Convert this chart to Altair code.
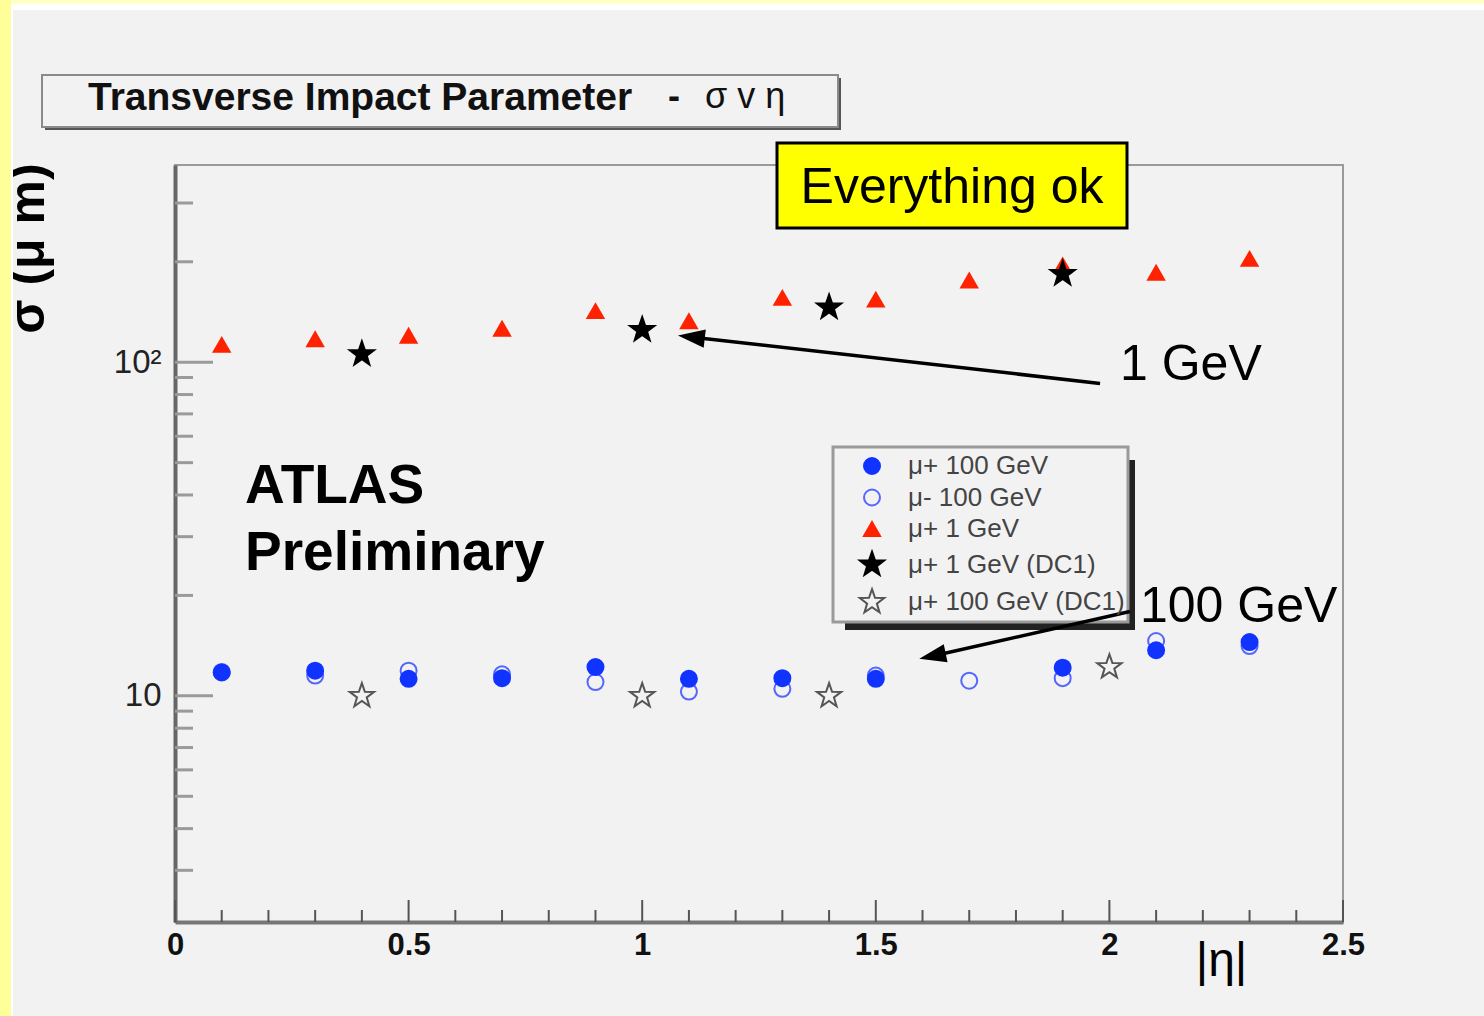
import math
import altair as alt
import pandas as pd

# ---------------- data ----------------
series_names = ["μ+ 100 GeV", "μ- 100 GeV", "μ+ 1 GeV", "μ+ 1 GeV (DC1)", "μ+ 100 GeV (DC1)"]

eta_mu_plus_100 = [0.1, 0.3, 0.5, 0.7, 0.9, 1.1, 1.3, 1.5, 1.9, 2.1, 2.3]
sigma_mu_plus_100 = [11.75, 11.9, 11.25, 11.3, 12.2, 11.25, 11.3, 11.25, 12.15, 13.7, 14.5]

eta_mu_minus_100 = [0.1, 0.3, 0.5, 0.7, 0.9, 1.1, 1.3, 1.5, 1.7, 1.9, 2.1, 2.3]
sigma_mu_minus_100 = [11.8, 11.5, 11.9, 11.6, 11.0, 10.3, 10.5, 11.5, 11.1, 11.3, 14.6, 14.1]

eta_mu_plus_1 = [0.1, 0.3, 0.5, 0.7, 0.9, 1.1, 1.3, 1.5, 1.7, 1.9, 2.1, 2.3]
sigma_mu_plus_1 = [112.7, 117.2, 120.0, 126.0, 142.2, 132.7, 155.9, 154.0, 175.8, 195.0, 185.4, 204.0]

eta_mu_plus_1_dc1 = [0.4, 1.0, 1.4, 1.9]
sigma_mu_plus_1_dc1 = [105.7, 125.0, 146.0, 184.0]

eta_mu_plus_100_dc1 = [0.4, 1.0, 1.4, 2.0]
sigma_mu_plus_100_dc1 = [10.0, 10.0, 10.0, 12.2]

x_major_ticks = [0, 0.5, 1, 1.5, 2, 2.5]
x_minor_ticks = [0.1, 0.2, 0.3, 0.4, 0.6, 0.7, 0.8, 0.9, 1.1, 1.2, 1.3, 1.4,
                 1.6, 1.7, 1.8, 1.9, 2.1, 2.2, 2.3, 2.4]
y_major_ticks = [10, 100]
y_minor_ticks = [3, 4, 5, 6, 7, 8, 9, 20, 30, 40, 50, 60, 70, 80, 90, 200, 300]

# arrow annotations (data coordinates)
arrow_tail_eta = [1.980, 2.044]
arrow_tail_sigma = [86.4, 17.9]
arrow_head_eta = [1.113, 1.629]
arrow_head_sigma = [118.6, 13.24]
arrow_head_angle = [6.5, 348.1]

# ---------------- styling ----------------
W, H = 1168, 757
BG = "#f2f2f2"
SANS = "Liberation Sans, Arial, sans-serif"


def star_path(scale, inner=0.4):
    pts = []
    for i in range(10):
        r = scale if i % 2 == 0 else scale * inner
        a = math.radians(-90 + 36 * i)
        pts.append(f"{r * math.cos(a):.3f},{r * math.sin(a):.3f}")
    return "M" + "L".join(pts) + "Z"


STAR = star_path(1.6)
ARROWHEAD = "M-1.4,0L0.8,-0.75L0.8,0.75Z"

shape_range = ["circle", "circle", "triangle-up", STAR, STAR]
fill_range = ["#1133ff", "transparent", "#ff2200", "#000000", "transparent"]
stroke_range = ["#1133ff", "#5566ff", "#ff2200", "#000000", "#555555"]
size_range = [256, 256, 300, 1000, 1000]

xs = alt.Scale(domain=[0, 2.5], nice=False, zero=False)
ys = alt.Scale(type="log", domain=[2.1, 390], nice=False)

rows = []
for name, etas, sigs in [
    (series_names[1], eta_mu_minus_100, sigma_mu_minus_100),
    (series_names[0], eta_mu_plus_100, sigma_mu_plus_100),
    (series_names[2], eta_mu_plus_1, sigma_mu_plus_1),
    (series_names[4], eta_mu_plus_100_dc1, sigma_mu_plus_100_dc1),
    (series_names[3], eta_mu_plus_1_dc1, sigma_mu_plus_1_dc1),
]:
    for e, s in zip(etas, sigs):
        rows.append({"eta": e, "sigma": s, "series": name})
df = pd.DataFrame(rows)

leg = alt.Legend(title=None, orient="none", legendX=684, legendY=288,
                 padding=0, labelFont=SANS, labelFontSize=26, labelColor="#444444",
                 labelOffset=23, rowPadding=5.5, symbolStrokeWidth=2, labelLimit=400)

x_axis = alt.Axis(values=x_major_ticks, ticks=False, grid=False, domainColor="#777777",
                  domainWidth=4, labelExpr="datum.value + ''", labelFont=SANS,
                  labelFontSize=31, labelFontWeight="bold", labelColor="#111111",
                  labelPadding=8, labelFlush=False, labelBound=False,
                  title="|η|", titleX=1046, titleY=53, titleAlign="center",
                  titleBaseline="alphabetic", titleFont=SANS, titleFontSize=48,
                  titleFontWeight="normal", titleColor="#000000")
y_axis = alt.Axis(values=y_major_ticks, ticks=False, grid=False, domainColor="#666666",
                  domainWidth=4, labelExpr="datum.value == 100 ? '10²' : '10'",
                  labelFont=SANS, labelFontSize=33, labelColor="#222222", labelPadding=14,
                  title="σ (μ m)", titleAngle=270, titleX=-132, titleY=83,
                  titleAlign="center", titleBaseline="alphabetic", titleFont=SANS,
                  titleFontSize=50, titleFontWeight="bold", titleColor="#000000")

points = alt.Chart(df).mark_point(opacity=1, strokeWidth=2).encode(
    x=alt.X("eta:Q", scale=xs, axis=x_axis),
    y=alt.Y("sigma:Q", scale=ys, axis=y_axis),
    shape=alt.Shape("series:N", scale=alt.Scale(domain=series_names, range=shape_range), legend=leg),
    fill=alt.Fill("series:N", scale=alt.Scale(domain=series_names, range=fill_range), legend=leg),
    stroke=alt.Stroke("series:N", scale=alt.Scale(domain=series_names, range=stroke_range), legend=leg),
    size=alt.Size("series:N", scale=alt.Scale(domain=series_names, range=size_range), legend=leg),
)

one = pd.DataFrame({"k": [0]})


def box(x1, x2, y1, y2, fill, stroke=None, sw=0):
    kw = {"fill": fill}
    if stroke:
        kw.update(stroke=stroke, strokeWidth=sw)
    return alt.Chart(one).mark_rect(**kw).encode(
        x=alt.value(x1), x2=alt.value(x2), y=alt.value(y1), y2=alt.value(y2))


def label(text, x, y, size, font=SANS, weight="normal", color="#000000", align="left"):
    return alt.Chart(pd.DataFrame({"t": [text]})).mark_text(
        align=align, baseline="alphabetic", font=font, fontSize=size,
        fontWeight=weight, color=color).encode(
        x=alt.value(x), y=alt.value(y), text="t:N")


# slide border decorations (pixel coordinates relative to the plot origin 175,165)
deco = [
    box(-175, 1309, -165, -161, "#ffffc8"),
    box(-164, 1309, -161, -155, "#ffffff"),
    box(-175, -164, -165, 851, "#ffff99"),
    box(-164, -162, -161, 851, "#ffffff"),
]

x_minor = alt.Chart(pd.DataFrame({"v": x_minor_ticks})).mark_rule(color="#555555", strokeWidth=2).encode(
    x=alt.X("v:Q", scale=xs, axis=x_axis), y=alt.value(H), y2=alt.value(H - 12))
x_major = alt.Chart(pd.DataFrame({"v": x_major_ticks})).mark_rule(color="#555555", strokeWidth=2).encode(
    x=alt.X("v:Q", scale=xs, axis=x_axis), y=alt.value(H), y2=alt.value(H - 22))
y_minor = alt.Chart(pd.DataFrame({"v": y_minor_ticks})).mark_rule(color="#9a9a9a", strokeWidth=3).encode(
    y=alt.Y("v:Q", scale=ys, axis=y_axis), x=alt.value(0), x2=alt.value(18))
y_major = alt.Chart(pd.DataFrame({"v": y_major_ticks})).mark_rule(color="#9a9a9a", strokeWidth=3).encode(
    y=alt.Y("v:Q", scale=ys, axis=y_axis), x=alt.value(0), x2=alt.value(38))

arr = pd.DataFrame({"tx": arrow_tail_eta, "ty": arrow_tail_sigma,
                    "hx": arrow_head_eta, "hy": arrow_head_sigma, "ang": arrow_head_angle})
arrow_lines = alt.Chart(arr).mark_rule(color="#000000", strokeWidth=3.5).encode(
    x=alt.X("tx:Q", scale=xs, axis=x_axis), y=alt.Y("ty:Q", scale=ys, axis=y_axis),
    x2="hx:Q", y2="hy:Q")
arrow_heads = alt.Chart(arr).mark_point(shape=ARROWHEAD, filled=True, color="#000000",
                                        opacity=1, size=600).encode(
    x=alt.X("hx:Q", scale=xs, axis=x_axis), y=alt.Y("hy:Q", scale=ys, axis=y_axis),
    angle=alt.Angle("ang:Q", scale=None))

title_box = [
    box(-130, 666, -87, -35, "#555555"),
    box(-133, 663, -90, -38, BG, "#8a8a8a", 2),
    label("Transverse Impact Parameter", -87, -55, 39, SANS, "bold", "#111111"),
    label("-", 493, -57, 36, SANS, "bold", "#111111"),
    label("σ v η", 530, -57, 36, SANS, "normal", "#111111"),
]

ok_box = [
    box(602, 952, -22, 63, "#ffff00", "#000000", 3),
    label("Everything ok", 777, 38, 50, SANS, "normal", "#000000", "center"),
]

texts = [
    label("ATLAS", 70, 338, 55, SANS, "bold"),
    label("Preliminary", 70, 405, 55, SANS, "bold"),
    label("1 GeV", 945, 215, 50, SANS),
    label("100 GeV", 965, 457, 50, SANS),
]

legend_box = [
    box(670, 960, 295, 465, "#222222"),
    box(658, 953, 282, 457, BG, "#9a9a9a", 3),
]

chart = alt.layer(
    *deco, x_minor, x_major, y_minor, y_major,
    points, *legend_box, arrow_lines, arrow_heads, *title_box, *ok_box, *texts
).properties(
    width=W, height=H, autosize="none",
    padding={"left": 175, "top": 165, "right": 141, "bottom": 94},
    background=BG,
).configure_view(stroke="#9a9a9a", strokeWidth=2, fill=BG)

chart.save("out.html", embed_options={"renderer": "svg", "actions": False})
